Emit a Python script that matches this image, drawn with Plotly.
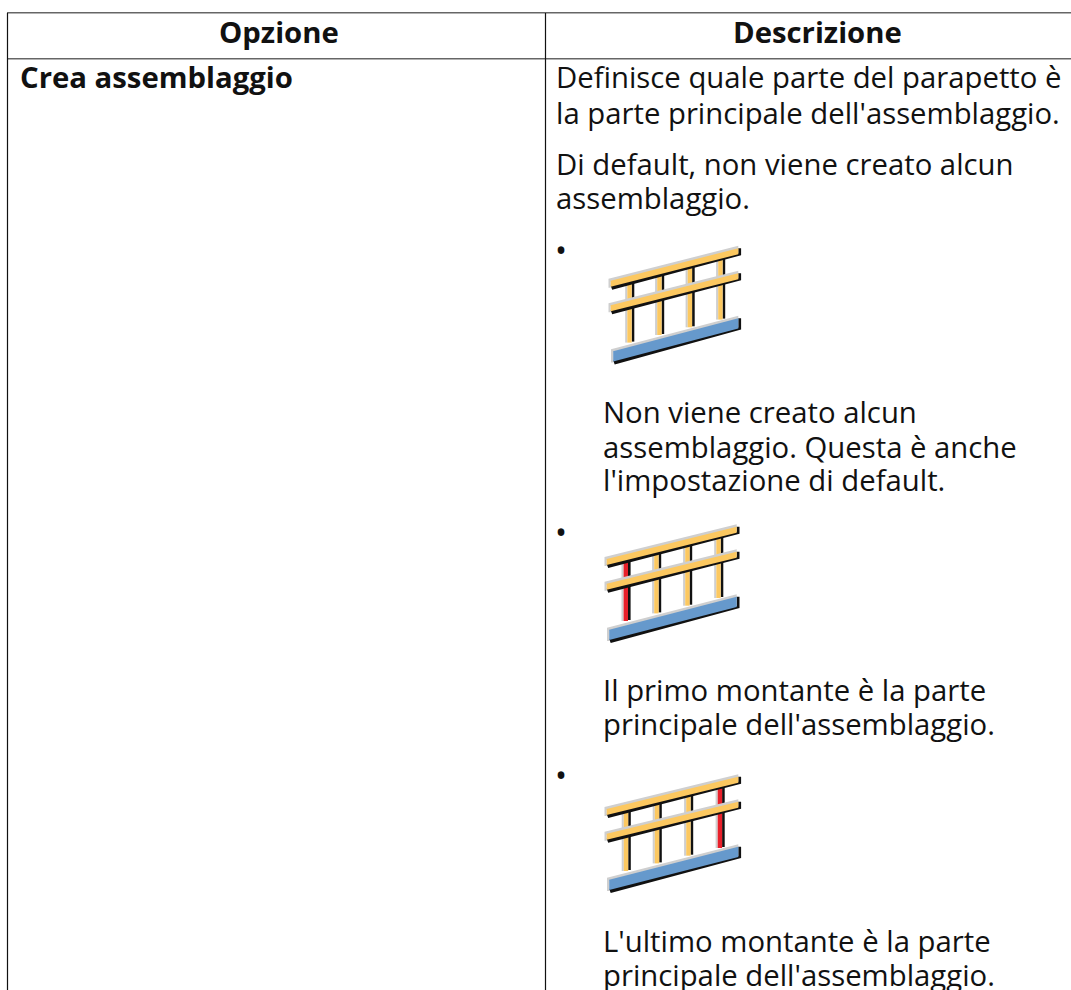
import plotly.graph_objects as go

HEADERS = ["Opzione", "Descrizione"]
OPTION = "Crea assemblaggio"
DESC_LINES = [
    "Definisce quale parte del parapetto è",
    "la parte principale dell'assemblaggio.",
    "Di default, non viene creato alcun",
    "assemblaggio.",
    "Non viene creato alcun",
    "assemblaggio. Questa è anche",
    "l'impostazione di default.",
    "Il primo montante è la parte",
    "principale dell'assemblaggio.",
    "L'ultimo montante è la parte",
    "principale dell'assemblaggio.",
]
DESC_X = [554, 554, 554, 554, 600.5, 600.5, 600.5, 600.5, 600.5, 600.5, 600.5]
DESC_BASE = [88.5, 124, 175, 209, 423, 458, 491.5, 700.7, 735, 951.7, 986]
BULLET_Y = [250.3, 532.7, 776]
BULLET_X = 560.5
# icon: left x, right x, top y (of right rail end), red post index or None
ICONS = [(610.7, 738.3, 248.3, None), (606.7, 736.7, 526.7, 0), (606.7, 738.3, 776.7, 3)]
POST_F = [0.147, 0.382, 0.621, 0.86]
RED = "#e8202a"; YEL = "#fcc860"; BLUE = "#6699cc"; GREY = "#cfcfcf"; BLK = "#111111"
FONT = "Open Sans"
SIZE = 29.3
BASE_OFF = 11.2

shapes = []
def poly(pts, color):
    path = "M " + " L ".join(f"{x:.1f},{y:.1f}" for x, y in pts) + " Z"
    shapes.append(dict(type="path", path=path, fillcolor=color, line=dict(width=0), xref="x", yref="y", layer="above"))
def line(x0, y0, x1, y1, w=1.5, c="#666666"):
    shapes.append(dict(type="line", x0=x0, y0=y0, x1=x1, y1=y1, line=dict(color=c, width=w), xref="x", yref="y"))

line(7, 12.8, 1071, 12.8); line(7, 58.8, 1071, 58.8)
line(7.5, 13, 7.5, 990, 1.2, "#111111"); line(545.5, 13, 545.5, 990, 1.2, "#111111")

for xl, xr, yt, red in ICONS:
    w = xr - xl
    def rail(xa, xb, ya, yb, h, color):
        # highlight above and left, shadow below and at the right
        poly([(xa-2.2, ya-2), (xb, yb-2.5), (xb, yb+1), (xa, ya+1), (xa, ya+h+1), (xa-2.2, ya+h+1)], GREY)
        poly([(xa, ya+h-1), (xb, yb+h-1), (xb, yb), (xb+2.8, yb), (xb+2.8, yb+h+1), (xa+1.5, ya+h+3)], BLK)
        poly([(xa, ya), (xb, yb), (xb, yb+h), (xa, ya+h)], color)
    slope = -32.2 / w
    def yat(x, y0):
        return y0 + (x - xl) * slope
    for i, f in enumerate(POST_F):
        px = xl + f * w
        ytop = yat(px, yt + 36)
        ybot = yat(px, yt + 99)
        c = RED if red == i else YEL
        poly([(px-4.3, ytop), (px-2.2, ytop), (px-2.2, ybot), (px-4.3, ybot)], GREY)
        poly([(px+2.2, ytop), (px+4.8, ytop), (px+4.8, ybot-1), (px+2.2, ybot-1)], BLK)
        poly([(px-2.2, ytop), (px+2.2, ytop), (px+2.2, ybot), (px-2.2, ybot)], c)
    rail(xl, xr, yt + 32.4, yt, 6, YEL)
    rail(xl, xr, yt + 57, yt + 25, 6, YEL)
    rail(xl + 2.5, xr, yt + 103, yt + 70, 10.3, BLUE)

fig = go.Figure()
# invisible trace keeps the axes live
fig.add_trace(go.Scatter(x=[0, 1071], y=[0, 990], mode="markers", marker=dict(opacity=0), hoverinfo="skip", showlegend=False))

ann = []
def text(x, base, s, anchor="left", bold=False, size=SIZE):
    ann.append(dict(x=x, y=base - BASE_OFF, text=f"<b>{s}</b>" if bold else s, showarrow=False, xanchor=anchor, yanchor="middle",
                    font=dict(family=FONT, size=size, color="#111111"), xref="x", yref="y"))
text(279, 43.3, HEADERS[0], "center", True)
text(817, 43.3, HEADERS[1], "center", True)
text(17.5, 88.5, OPTION, "left", True)
for x, y, s in zip(DESC_X, DESC_BASE, DESC_LINES):
    text(x, y, s)
for y in BULLET_Y:
    # the bullet glyph sits about 10 px above the baseline
    text(BULLET_X, y + 10, "•", "center", size=32)

fig.update_layout(
    width=1071, height=990, margin=dict(l=0, r=0, t=0, b=0),
    paper_bgcolor="white", plot_bgcolor="white", showlegend=False,
    xaxis=dict(range=[0, 1071], visible=False, fixedrange=True),
    yaxis=dict(range=[990, 0], visible=False, fixedrange=True),
    shapes=shapes, annotations=ann,
)
fig.write_html("out.html", config=dict(displayModeBar=False),
               post_script="document.body.style.margin='0';document.body.style.overflow='hidden';")
